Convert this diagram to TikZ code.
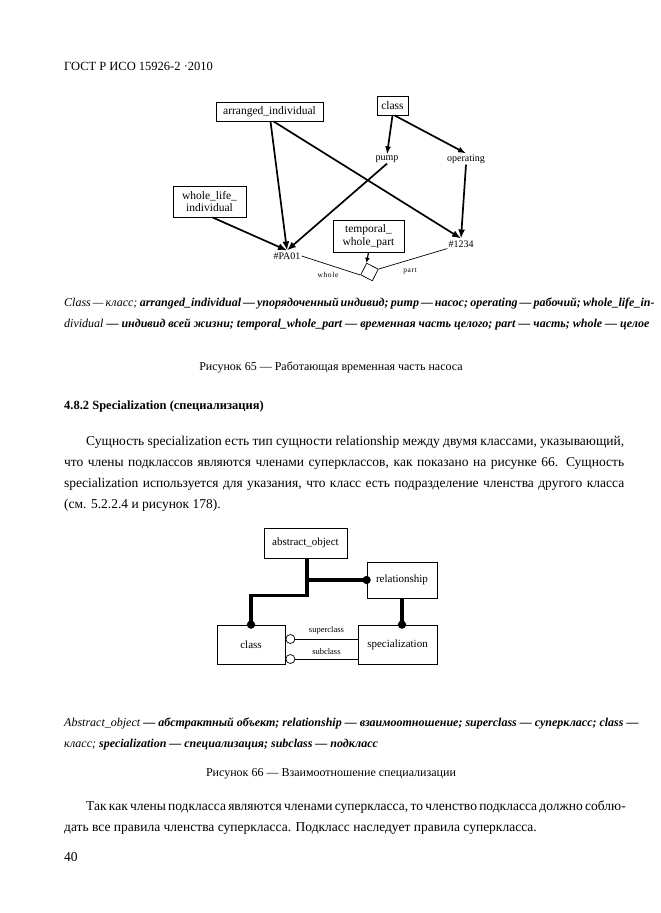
\documentclass[tikz,border=0pt]{standalone}
\usepackage{fontspec}
\setmainfont{Liberation Serif}
\usetikzlibrary{arrows.meta,positioning}
\newcommand{\jrow}[2]{\hbox to #1{#2}}

\begin{document}
\begin{tikzpicture}[x=1pt,y=-1pt,
  bx/.style={draw,line width=0.8pt,inner sep=2pt,align=center,
             font=\fontsize{11.5}{12.5}\selectfont},
  bx2/.style={draw,line width=0.8pt,inner sep=2pt,align=center,
             font=\fontsize{11}{12}\selectfont},
  tag/.style={inner sep=1pt,font=\fontsize{10}{11}\selectfont},
  role/.style={inner sep=0pt,font=\fontsize{7.5}{8}\selectfont\addfontfeature{LetterSpace=8}},
  lnk/.style={-{Latex[length=9pt,width=7pt]},line width=1.7pt},
  rl/.style={line width=3.6pt,-{Circle[length=8pt]},shorten >=-4pt},
  txt/.style={anchor=base west,inner sep=0pt,font=\fontsize{13.5}{15}\selectfont},
  lgd/.style={anchor=base west,inner sep=0pt,font=\fontsize{12}{14}\selectfont},
  figcap/.style={anchor=base,inner sep=0pt,font=\fontsize{12}{14}\selectfont}
]
\useasboundingbox (0,0) rectangle (661,913);

% header
\node[txt,font=\fontsize{12.5}{14}\selectfont] (hdr) at (64,70) {ГОСТ Р ИСО 15926-2 ·2010};

% figure 65
\node[bx,minimum width=107pt,minimum height=19pt] (ai) at (269.5,111.5) {arranged\_individual};
\node[bx,minimum width=31pt,minimum height=19pt] (cl) at (392.5,105.5) {class};
\node[tag] (pump) at (387,159) {pump};
\node[tag] (op) at (466,159) {operating};
\node[bx,minimum width=73pt,minimum height=31pt] (wl) at (209.5,201.5) {whole\_life\_\\individual};
\node[bx,minimum width=71pt,minimum height=32pt] (twp) at (368.5,236) {temporal\_\\whole\_part};
\node[tag] (pa) at (287,256) {\#PA01};
\node[tag] (n1234) at (461,244) {\#1234};
\node[draw,line width=0.7pt,minimum size=13pt,inner sep=0pt,rotate=-27] (tw) at (369.5,272) {};
\node[role] (wh) at (328,275) {whole};
\node[role] (pt) at (410,271) {part};

\draw[lnk] ([xshift=1pt]ai.south) -- ([yshift=1pt]pa.north);
\draw[lnk] ([xshift=4pt]ai.south) -- ([yshift=1pt]n1234.north);
\draw[lnk] ([xshift=3pt]wl.south) -- ([yshift=1pt]pa.north);
\draw[lnk] (pump.south) -- ([yshift=1pt]pa.north);
\draw[lnk,-{Latex[length=8pt,width=6pt]}] (cl.south) -- (pump.north);
\draw[lnk,-{Latex[length=8pt,width=6pt]}] ([xshift=2pt]cl.south) -- (op.north);
\draw[lnk] (op.south) -- ([yshift=1pt]n1234.north);
\draw[-{Latex[length=5pt,width=5pt]},line width=1.2pt] (twp.south) -- (tw.north west);
\draw[line width=0.7pt] (tw.south west) -- (pa.east);
\draw[line width=0.7pt] (tw.north east) -- (n1234.south west);

% legend 65
\node[lgd] (lg1) at (64,306) {\jrow{537pt}{\textit{Class — класс;} \textbf{\textit{arranged\_individual — упорядоченный индивид; pump — насос; operating — рабочий; whole\_life\_in-}}}};
\node[lgd] (lg2) at (64,327) {\textit{dividual} \textbf{\textit{— индивид всей жизни; temporal\_whole\_part — временная часть целого; part — часть; whole — целое}}};
\node[figcap] (c65) at (331,370) {Рисунок 65 — Работающая временная часть насоса};

% section text
\node[txt,font=\bfseries\fontsize{12.5}{14}\selectfont] (sec) at (64,409) {4.8.2 Specialization (специализация)};
\node[txt] (p1) at (86,445) {\jrow{538pt}{Сущность specialization есть тип сущности relationship между двумя классами, указывающий,}};
\node[txt] (p2) at (64,466) {\jrow{560pt}{что члены подклассов являются членами суперклассов, как показано на рисунке 66. Сущность}};
\node[txt] (p3) at (64,487) {\jrow{560pt}{specialization используется для указания, что класс есть подразделение членства другого класса}};
\node[txt] (p4) at (64,508) {(см. 5.2.2.4 и рисунок 178).};

% figure 66
\node[bx2,minimum width=83pt,minimum height=30pt] (ao) at (305.5,543) {abstract\_object};
\node[bx2,minimum width=70pt,minimum height=36pt] (rel) at (402,580) {relationship};
\node[bx2,minimum width=68pt,minimum height=39pt] (cls) at (251,644.5) {class};
\node[bx2,minimum width=79pt,minimum height=39pt] (spec) at (397.5,644.5) {specialization};

\draw[rl] ([xshift=1.5pt]ao.south) -- ++(0,37) -| (cls.north);
\draw[rl] ([xshift=1.5pt]ao.south |- rel.west) -- (rel.west);
\draw[rl] (rel.south) -- (rel.south |- spec.north);

\node[draw,circle,line width=0.7pt,fill=white,minimum size=9pt,inner sep=0pt] (sup) at ([xshift=5pt,yshift=5.5pt]cls.east) {};
\node[draw,circle,line width=0.7pt,fill=white,minimum size=9pt,inner sep=0pt] (sub) at ([xshift=5pt,yshift=-14.5pt]cls.east) {};
\draw[line width=0.7pt] (sup.east) -- (sup.east -| spec.west) node[midway,above=1pt,font=\fontsize{8.5}{9}\selectfont] (lsup) {superclass};
\draw[line width=0.7pt] (sub.east) -- (sub.east -| spec.west) node[midway,above=1pt,font=\fontsize{8.5}{9}\selectfont] (lsub) {subclass};

% legend 66
\node[lgd] (lg3) at (64,726) {\textit{Abstract\_object} \textbf{\textit{— абстрактный объект; relationship — взаимоотношение; superclass — суперкласс; class —}}};
\node[lgd] (lg4) at (64,747) {\textit{класс;} \textbf{\textit{specialization — специализация; subclass — подкласс}}};
\node[figcap] (c66) at (331,776) {Рисунок 66 — Взаимоотношение специализации};

% closing text
\node[txt] (q1) at (86,810) {\jrow{538pt}{Так как члены подкласса являются членами суперкласса, то членство подкласса должно соблю-}};
\node[txt] (q2) at (64,831) {дать все правила членства суперкласса. Подкласс наследует правила суперкласса.};
\node[txt] (pg) at (64,861) {40};
\end{tikzpicture}
\end{document}
